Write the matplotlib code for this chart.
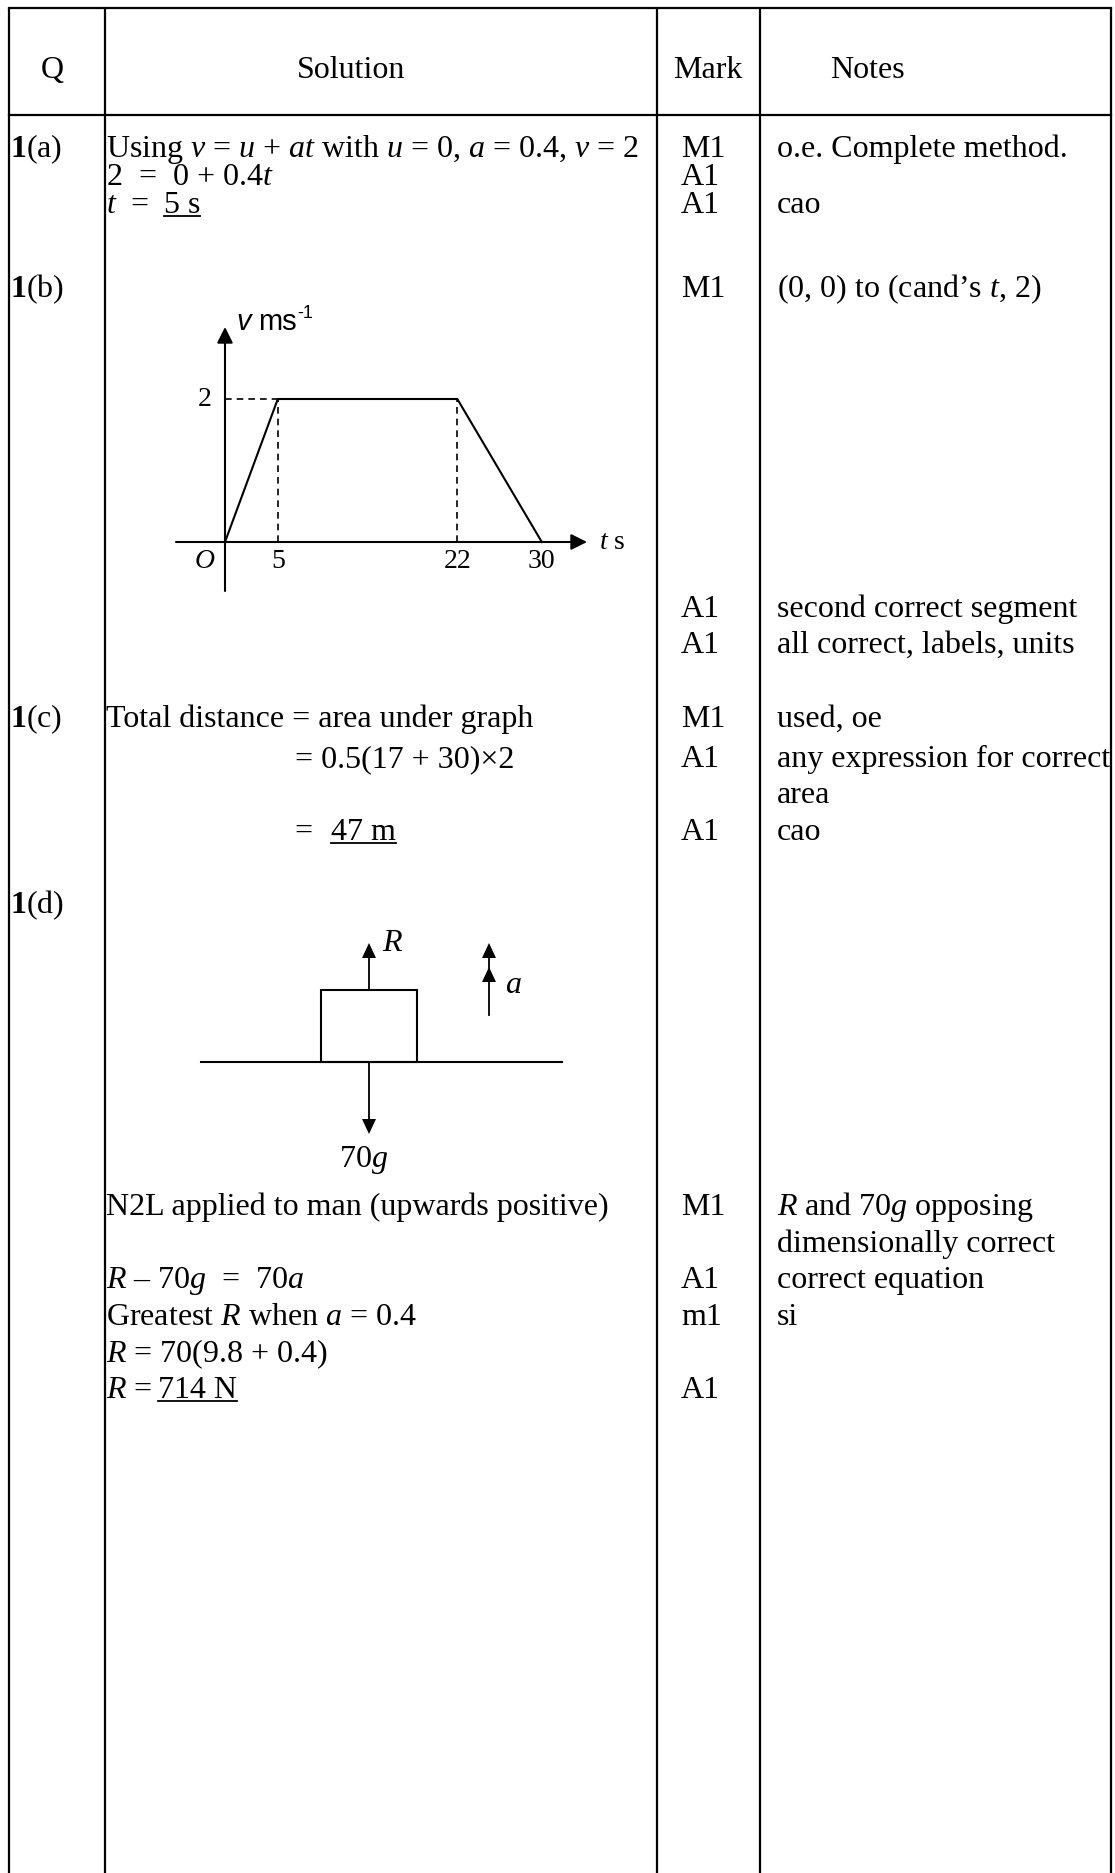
import matplotlib
matplotlib.use("Agg")
import matplotlib.pyplot as plt
from matplotlib.patches import Polygon, Rectangle

plt.rcParams['font.family'] = ['Liberation Serif', 'DejaVu Serif']
plt.rcParams['mathtext.fontset'] = 'custom'
plt.rcParams['mathtext.rm'] = 'Liberation Serif'
plt.rcParams['mathtext.it'] = 'Liberation Serif:italic'
plt.rcParams['mathtext.bf'] = 'Liberation Serif:bold'

# ---- data: table text ----
headers = ['Q', 'Solution', 'Mark', 'Notes']
q_labels = [r'$\mathbf{1}$(a)', r'$\mathbf{1}$(b)', r'$\mathbf{1}$(c)', r'$\mathbf{1}$(d)']

sol_a = [r'Using $v$ = $u$ + $at$ with $u$ = 0, $a$ = 0.4, $v$ = 2',
         r'2  =  0 + 0.4$t$']
sol_c = ['Total distance = area under graph', r'= 0.5(17 + 30)×2']
sol_d = ['N2L applied to man (upwards positive)', r'$R$ – 70$g$  =  70$a$',
         r'Greatest $R$ when $a$ = 0.4', r'$R$ = 70(9.8 + 0.4)']

marks = ['M1', 'A1', 'A1', 'M1', 'A1', 'A1', 'M1', 'A1', 'A1', 'M1', 'A1', 'm1', 'A1']
notes = ['o.e. Complete method.', 'cao', '(0, 0) to (cand’s $t$, 2)',
         'second correct segment', 'all correct, labels, units', 'used, oe',
         'any expression for correct', 'area', 'cao',
         r'$R$ and 70$g$ opposing', 'dimensionally correct', 'correct equation', 'si']

# ---- data: v-t graph ----
t_points = [0, 5, 22, 30]
v_points = [0, 2, 2, 0]
t_ticks = [5, 22, 30]
v_ticks = [2]

FS = 23
fig = plt.figure(figsize=(11.15, 18.74), dpi=100)
ax = fig.add_axes([0, 0, 1, 1])
ax.set_xlim(0, 1115)
ax.set_ylim(1874, 0)
ax.axis('off')
renderer = fig.canvas.get_renderer()


def put(x, y, s, **kw):
    kw.setdefault('ha', 'left')
    kw.setdefault('fontsize', FS)
    return ax.text(x, y, s, va='baseline', **kw)


def put_under(x, y, s):
    t = put(x, y, s)
    bb = t.get_window_extent(renderer)
    ax.plot([bb.x0, bb.x1], [y + 4, y + 4], color='k', lw=1.3)


# table frame
for x in [9, 105, 657, 760, 1111]:
    ax.plot([x, x], [9, 1874], color='k', lw=1.6, solid_capstyle='butt')
for y in [9, 116]:
    ax.plot([9, 1111], [y, y], color='k', lw=1.6, solid_capstyle='projecting')

for h, x in zip(headers, [52, 351, 708, 867]):
    put(x, 78, h, ha='center')

# Q column
for q, y in zip(q_labels, [157, 297, 727, 913]):
    put(10, y, q)

# Solution column
SX = 106
for s, y in zip(sol_a, [157, 185]):
    put(SX, y, s)
put(SX, 213, r'$t$  =  ')
put_under(164, 213, '5 s')

put(SX, 727, sol_c[0])
put(295, 767, sol_c[1])
put(295, 840, '=  ')
put_under(331, 840, '47 m')

for s, y in zip(sol_d, [1215, 1288, 1325, 1362]):
    put(SX, y, s)
put(SX, 1398, r'$R$ = ')
put_under(158, 1398, '714 N')

# Mark and Notes columns
mark_y = [157, 185, 213, 297, 617, 653, 727, 767, 840, 1215, 1288, 1325, 1398]
for m, y in zip(marks, mark_y):
    put(681, y, m)
note_y = [157, 213, 297, 617, 653, 727, 767, 803, 840, 1215, 1252, 1288, 1325]
for n, y in zip(notes, note_y):
    put(777, y, n)

# ---- v-t graph in its own axes ----
ox, oy = 225, 543          # pixel position of origin
px_t = 10.56               # pixels per second
px_v = (543 - 400) / 2     # pixels per m/s
gx0, gx1, gy0, gy1 = 170, 640, 310, 600
axg = fig.add_axes([gx0 / 1115, 1 - gy1 / 1874, (gx1 - gx0) / 1115, (gy1 - gy0) / 1874])
axg.set_xlim((gx0 - ox) / px_t, (gx1 - ox) / px_t)
axg.set_ylim((oy - gy1) / px_v, (oy - gy0) / px_v)
axg.axis('off')

arrow = dict(arrowstyle='-|>', lw=1.5, color='k', mutation_scale=24, shrinkA=0, shrinkB=0)
axg.annotate('', xy=((587 - ox) / px_t, 0), xytext=((176 - ox) / px_t, 0), arrowprops=arrow)
axg.annotate('', xy=(0, (oy - 328) / px_v), xytext=(0, (oy - 592) / px_v), arrowprops=arrow)

axg.plot(t_points, v_points, color='k', lw=1.5)
dash = (0, (4, 3))
axg.plot([0, t_points[1]], [v_points[1], v_points[1]], color='k', lw=1.2, ls=dash)
for i in (1, 2):
    axg.plot([t_points[i], t_points[i]], [0, v_points[i]], color='k', lw=1.2, ls=dash)

lab_v = (oy - 562) / px_v
for tk in t_ticks:
    axg.text(tk, lab_v, str(tk), fontsize=20, ha='center', va='center')
axg.text(-20 / px_t, lab_v, '$O$', fontsize=20, ha='center', va='center')
for vk in v_ticks:
    axg.text(-13 / px_t, vk, str(vk), fontsize=20, ha='right', va='center')
axg.text((599 - ox) / px_t, 0, '$t$ s', fontsize=20, ha='left', va='center')

sans = ['Liberation Sans', 'DejaVu Sans']
yl = (oy - 330) / px_v
axg.text((236 - ox) / px_t, yl, 'v', fontsize=21, family=sans, style='italic', va='baseline')
axg.text((258 - ox) / px_t, yl, 'ms', fontsize=21, family=sans, va='baseline')
axg.text((297 - ox) / px_t, (oy - 318) / px_v, '-1', fontsize=13, family=sans, va='baseline')

# ---- force diagram ----
def head(x, tip, up=True, w=14, h=15):
    d = h if up else -h
    ax.add_patch(Polygon([[x, tip], [x - w / 2, tip + d], [x + w / 2, tip + d]],
                         closed=True, color='k', lw=0))


ax.add_patch(Rectangle((321, 991), 96, 72, fill=False, ec='k', lw=1.5))
ax.plot([201, 562], [1063, 1063], color='k', lw=1.5)
ax.plot([369, 369], [991, 955], color='k', lw=1.3)
head(369, 944)
ax.plot([369, 369], [1063, 1125], color='k', lw=1.3)
head(369, 1135, up=False)
ax.plot([489, 489], [1016, 955], color='k', lw=1.3)
head(489, 944)
head(489, 968)
put(382, 951, '$R$')
put(505, 993, '$a$')
put(364, 1167, '70$g$', ha='center')

fig.savefig('out.png', dpi=100, facecolor='white')
